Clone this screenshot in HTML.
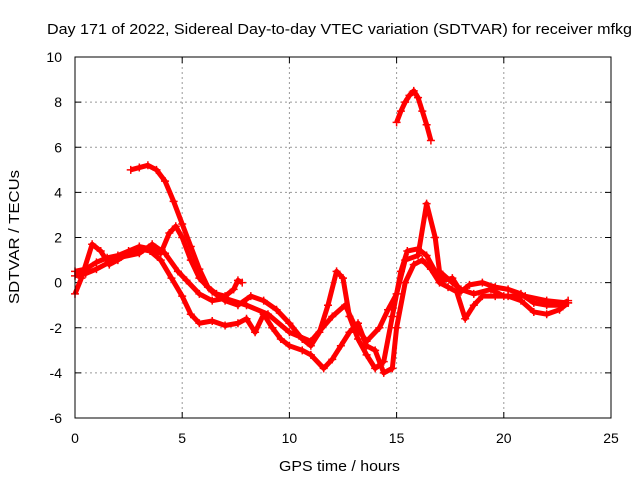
<!DOCTYPE html>
<html><head><meta charset="utf-8"><style>
body{margin:0;background:#fff}
svg{display:block;font-family:"Liberation Sans",sans-serif}
</style></head><body>
<svg id="c" width="640" height="480" xmlns="http://www.w3.org/2000/svg">
<text x="47" y="34" font-size="15" textLength="585" lengthAdjust="spacingAndGlyphs">Day 171 of 2022, Sidereal Day-to-day VTEC variation (SDTVAR) for receiver mfkg</text>
<text x="279" y="471" font-size="15" textLength="121" lengthAdjust="spacingAndGlyphs">GPS time / hours</text>
<text transform="translate(19,304) rotate(-90)" font-size="15" textLength="134" lengthAdjust="spacingAndGlyphs">SDTVAR / TECUs</text>
<g id="grid"></g><g id="marks"></g>
<rect x="75" y="57" width="536" height="361" fill="none" stroke="#000"/>
</svg>
<script>
const xTicks=[0,5,10,15,20,25];
const yTicks=[-6,-4,-2,0,2,4,6,8,10];
const s1t=[15.0,15.2,15.4,15.6,15.8,16.0,16.2,16.4,16.6];
const s1v=[7.1,7.6,8.0,8.3,8.5,8.2,7.6,7.0,6.3];
const s2t=[2.6,3.0,3.4,3.8,4.2,4.6,5.0,5.4,5.8,6.2,6.6,7.0,7.4,7.6,7.8];
const s2v=[5.0,5.1,5.2,5.0,4.5,3.6,2.6,1.6,0.6,-0.2,-0.5,-0.6,-0.3,0.1,0.0];
const s3t=[0,0.5,1,1.5,2,2.5,3,3.5,4,4.4,4.7,5,5.4,5.8,6.4,7,7.6,8.2,8.8,9.4,10,10.6,11,11.4,11.8,12.2,12.5,12.8,13.2,13.6,14,14.4,14.8,15.2,15.5,16,16.4,16.8,17.2,17.6,18,18.4,19,19.6,20.2,20.8,21.4,22,22.6,23];
const s3v=[0.5,0.6,0.9,1.1,1.2,1.4,1.6,1.5,1.3,2.2,2.5,2.0,1.0,0.2,-0.4,-0.8,-1.0,-0.6,-0.8,-1.2,-1.8,-2.5,-2.8,-2.2,-1.0,0.5,0.2,-1.5,-2.5,-3.2,-3.8,-3.5,-1.5,0.5,1.4,1.5,1.2,0.5,0.1,0.2,-0.4,-0.1,0.0,-0.2,-0.3,-0.5,-0.9,-1.0,-1.0,-0.8];
const s4t=[0,0.3,0.8,1.2,1.6,2,2.5,3,3.5,4,4.5,5,5.4,5.8,6.4,7,7.6,8,8.4,8.8,9.2,9.6,10,10.6,11,11.6,12,12.4,12.8,13.2,13.6,14,14.4,14.8,15,15.4,15.8,16.2,16.6,17,17.4,17.8,18.2,18.6,19,19.6,20.2,20.8,21.4,22,22.6,23];
const s4v=[-0.5,0.2,1.7,1.4,0.8,1.0,1.3,1.5,1.4,1.0,0.2,-0.6,-1.4,-1.8,-1.7,-1.9,-1.8,-1.6,-2.2,-1.4,-2.0,-2.5,-2.8,-3.0,-3.2,-3.8,-3.4,-2.8,-2.2,-1.8,-2.8,-3.0,-4.0,-3.8,-2.0,0.0,0.8,1.0,0.6,0.0,-0.2,-0.4,-1.6,-1.0,-0.6,-0.6,-0.6,-0.8,-1.3,-1.4,-1.2,-0.9];
const s5t=[0,0.5,1,2,3,3.6,4.2,4.8,5.2,5.8,6.4,7,8,9,10,11,12,12.6,13,13.6,14.2,14.6,15,15.4,16,16.4,16.8,17,17.6,18,18.6,19.4,20,21,22,23];
const s5v=[0.3,0.4,0.6,1.1,1.3,1.7,1.3,0.5,0.1,-0.5,-0.8,-0.7,-1.0,-1.4,-2.2,-2.6,-1.5,-1.0,-1.8,-2.6,-2.0,-1.2,-0.5,1.0,1.2,3.5,2.0,0.5,0.0,-0.3,-0.5,-0.3,-0.6,-0.6,-0.8,-0.9];
const X=t=>75+t*536/25, Y=v=>418-(v+6)*361/16;
const NS="http://www.w3.org/2000/svg";
const grid=document.getElementById('grid'), marks=document.getElementById('marks');
function mk(tag,attrs,parent){const e=document.createElementNS(NS,tag);for(const k in attrs)e.setAttribute(k,attrs[k]);parent.appendChild(e);return e;}
xTicks.forEach(t=>{
  if(t>0&&t<25){const l=mk('line',{x1:X(t),x2:X(t),y1:57,y2:418,stroke:'#999','stroke-dasharray':'2,3'},grid);
  
  }
  mk('line',{x1:X(t),x2:X(t),y1:418,y2:412,stroke:'#000'},grid);
  mk('line',{x1:X(t),x2:X(t),y1:57,y2:63,stroke:'#000'},grid);
  const tx=mk('text',{x:X(t),y:443,'font-size':14,'text-anchor':'middle'},grid);tx.textContent=t;
  
  
});
yTicks.forEach(v=>{
  if(v>-6&&v<10){const l=mk('line',{x1:75,x2:611,y1:Y(v),y2:Y(v),stroke:'#999','stroke-dasharray':'2,3'},grid);
  
  }
  mk('line',{x1:75,x2:81,y1:Y(v),y2:Y(v),stroke:'#000'},grid);
  mk('line',{x1:611,x2:605,y1:Y(v),y2:Y(v),stroke:'#000'},grid);
  const tx=mk('text',{x:62,y:Y(v)+5,'font-size':14,'text-anchor':'end'},grid);tx.textContent=v;
  
  
});
[[s1t,s1v],[s2t,s2v],[s3t,s3v],[s4t,s4v],[s5t,s5v]].forEach((s,i)=>{
  const pts=s[0].map((t,j)=>X(t)+','+Y(s[1][j])).join(' ');
  const pl=mk('polyline',{points:pts,fill:'none',stroke:'#f00','stroke-width':5,'stroke-linejoin':'round'},marks);
  
  
  s[0].forEach((t,j)=>{const x=X(t),y=Y(s[1][j]);
    const p=mk('path',{d:`M${x-4},${y}h8M${x},${y-4}v8`,stroke:'#f00','stroke-width':1.5},marks);
    
    
  });
});
</script>
</body></html>
